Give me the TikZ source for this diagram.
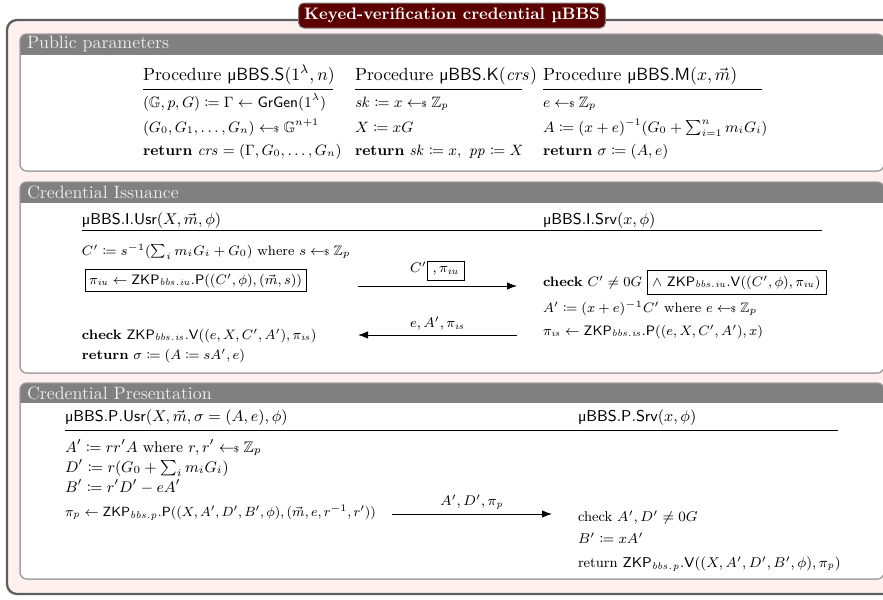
\RequirePackage{fix-cm}
\documentclass[tikz,border=0pt]{standalone}
\usepackage{amsmath}
\usepackage{amssymb}
\usepackage{mathtools}
\usepackage{xcolor}
\usepackage{tikz}
\usetikzlibrary{positioning, calc, arrows.meta}

\definecolor{framegray}{HTML}{5E5E5E}
\definecolor{framepink}{HTML}{FFF0F0}
\definecolor{titlered}{HTML}{5C0000}
\definecolor{headgray}{HTML}{808080}
\definecolor{headtext}{HTML}{ECECEC}

\newcommand{\sample}{\mathrel{\leftarrow\!\!\mbox{\tiny\$}}}
\newcommand{\mbbs}{\textsf{µBBS}}
\newcommand{\zkp}[1]{\mathsf{ZKP}_{\mathit{#1}}}
\newcommand{\piiu}{\pi_{\mathit{iu}}}
\newcommand{\piis}{\pi_{\mathit{is}}}
\newcommand{\pip}{\pi_{\mathit{p}}}

\begin{document}
\begin{tikzpicture}[x=0.6pt, y=-0.6pt,
          every node/.style={inner sep=0pt, outer sep=0pt},
          txt/.style={anchor=base west, font=\small},
          itxt/.style={anchor=base west, font=\fontsize{8.2}{10}\selectfont},
          ptxt/.style={anchor=base west, font=\fontsize{9.2}{11}\selectfont},
          qtxt/.style={anchor=base west, font=\fontsize{8.5}{10}\selectfont},
          party/.style={anchor=base west, font=\fontsize{9.4}{11}\selectfont},
          hd/.style={anchor=base west, font=\fontsize{10.6}{12}\selectfont},
          boxed/.style={draw, inner sep=2.5pt, anchor=base west, font=\fontsize{8.2}{10}\selectfont},
          rule/.style={line width=0.6pt},
          msg/.style={line width=0.6pt, -{Latex[length=6pt, width=4.5pt]}},
          msglabel/.style={above=3pt, font=\fontsize{8.4}{10}\selectfont},
          secbody/.style={draw=headgray!80, fill=white, line width=0.6pt, rounded corners=4pt},
          sechead/.style={anchor=west, text=headtext, font=\fontsize{10.7}{12}\selectfont}]
  \useasboundingbox (0,0) rectangle (883,600);

  % outer frame and title
  \draw[draw=framegray, fill=framepink, line width=1.4pt, rounded corners=6pt] (7,20) rectangle (897,594);
  \foreach \top/\hbot/\bot/\name in {34/55/171/Public parameters,
                                     182/203/373/Credential Issuance,
                                     383/403/579/Credential Presentation}{
    \draw[secbody] (20,\top) rectangle (884,\bot);
    \begin{scope}
      \clip[rounded corners=4pt] (20,\top) rectangle (884,\bot);
      \fill[headgray] (20,\top) rectangle (884,\hbot);
    \end{scope}
    \draw[secbody, fill=none] (20,\top) rectangle (884,\bot);
    \node[sechead] (head\top) at (27,{(\top+\hbot)/2}) {\name};
  }
  \node[fill=titlered, draw=headgray, line width=0.6pt, rounded corners=3pt,
        text=white, minimum width=184pt, minimum height=15pt] (title) at (452,15.5)
        {\textbf{Keyed-verification credential µBBS}};

  % public parameters
  \node[hd] (sHead) at (143,80) {Procedure \mbbs.\textsf{S}$(1^\lambda, n)$};
  \node[hd] (kHead) at (355,80) {Procedure \mbbs.\textsf{K}$(\mathit{crs})$};
  \node[hd] (mHead) at (543,80) {Procedure \mbbs.\textsf{M}$(x, \vec{m})$};
  \draw[rule] (143,89) -- (333,89);
  \draw[rule] (355,89) -- (522,89);
  \draw[rule] (543,89) -- (762,89);

  \node[txt] (s1) at (143,107) {$(\mathbb{G}, p, G) \coloneqq \Gamma \leftarrow \mathsf{GrGen}(1^\lambda)$};
  \node[txt] (s2) at (143,132) {$(G_0, G_1, \ldots, G_n) \sample \mathbb{G}^{n+1}$};
  \node[txt] (s3) at (143,155) {\textbf{return} $\mathit{crs} = (\Gamma, G_0, \ldots, G_n)$};
  \node[txt] (k1) at (355,107) {$\mathit{sk} \coloneqq x \sample \mathbb{Z}_p$};
  \node[txt] (k2) at (355,132) {$X \coloneqq xG$};
  \node[txt] (k3) at (355,155) {\textbf{return} $\mathit{sk} \coloneqq x,\ \mathit{pp} \coloneqq X$};
  \node[txt] (m1) at (543,107) {$e \sample \mathbb{Z}_p$};
  \node[txt] (m2) at (543,132) {$A \coloneqq (x+e)^{-1}(G_0 + \sum_{i=1}^{n} m_iG_i)$};
  \node[txt] (m3) at (543,155) {\textbf{return} $\sigma \coloneqq (A, e)$};

  % credential issuance
  \node[party] (iUsr) at (82,224) {\mbbs.\textsf{I}.\textsf{Usr}$(X, \vec{m}, \phi)$};
  \node[party] (iSrv) at (543,224) {\mbbs.\textsf{I}.\textsf{Srv}$(x, \phi)$};
  \draw[rule] (82,230) -- (822,230);

  \node[itxt] (iC) at (82,255) {$C' \coloneqq s^{-1}(\sum_i m_iG_i + G_0)$ where $s \sample \mathbb{Z}_p$};
  \node[boxed] (iPiu) at (85,284) {$\piiu \leftarrow \zkp{bbs.iu}.\mathsf{P}((C', \phi), (\vec{m}, s))$};
  \node[itxt] (iChk) at (543,286) {\textbf{check} $C' \neq 0G$ \fbox{$\wedge\ \zkp{bbs.iu}.\mathsf{V}((C', \phi), \piiu)$}};
  \node[itxt] (iA) at (543,312) {$A' \coloneqq (x+e)^{-1}C'$ where $e \sample \mathbb{Z}_p$};
  \node[itxt] (iPis) at (543,335) {$\piis \leftarrow \zkp{bbs.is}.\mathsf{P}((e, X, C', A'), x)$};
  \node[itxt] (iChk2) at (82,339) {\textbf{check} $\zkp{bbs.is}.\mathsf{V}((e, X, C', A'), \piis)$};
  \node[itxt] (iRet) at (82,359) {\textbf{return} $\sigma \coloneqq (A \coloneqq sA', e)$};

  \coordinate (a1s) at (358,286);
  \coordinate (a1e) at (517,286);
  \coordinate (a2s) at (517,335);
  \coordinate (a2e) at (358,335);
  \draw[msg] (a1s) -- node[msglabel] (l1) {$C'$\fbox{$, \piiu$}} (a1e);
  \draw[msg] (a2s) -- node[msglabel] (l2) {$e, A', \piis$} (a2e);

  % credential presentation
  \node[party] (pUsr) at (65,421) {\mbbs.\textsf{P}.\textsf{Usr}$(X, \vec{m}, \sigma = (A, e), \phi)$};
  \node[party] (pSrv) at (578,421) {\mbbs.\textsf{P}.\textsf{Srv}$(x, \phi)$};
  \draw[rule] (65,430) -- (838,430);

  \node[ptxt] (p1) at (65,452) {$A' \coloneqq rr'A$ where $r, r' \sample \mathbb{Z}_p$};
  \node[ptxt] (p2) at (65,472) {$D' \coloneqq r(G_0 + \sum_i m_iG_i)$};
  \node[ptxt] (p3) at (65,492) {$B' \coloneqq r'D' - eA'$};
  \node[qtxt, font=\fontsize{8}{10}\selectfont] (p4) at (65,516) {$\pip \leftarrow \zkp{bbs.p}.\mathsf{P}((X, A', D', B', \phi), (\vec{m}, e, r^{-1}, r'))$};
  \node[qtxt] (q1) at (578,521) {check $A', D' \neq 0G$};
  \node[qtxt] (q2) at (578,543) {$B' \coloneqq xA'$};
  \node[qtxt] (q3) at (578,567) {return $\zkp{bbs.p}.\mathsf{V}((X, A', D', B', \phi), \pip)$};

  \coordinate (a3s) at (392,514);
  \coordinate (a3e) at (552,514);
  \draw[msg] (a3s) -- node[msglabel] (l3) {$A', D', \pip$} (a3e);
\end{tikzpicture}
\end{document}
